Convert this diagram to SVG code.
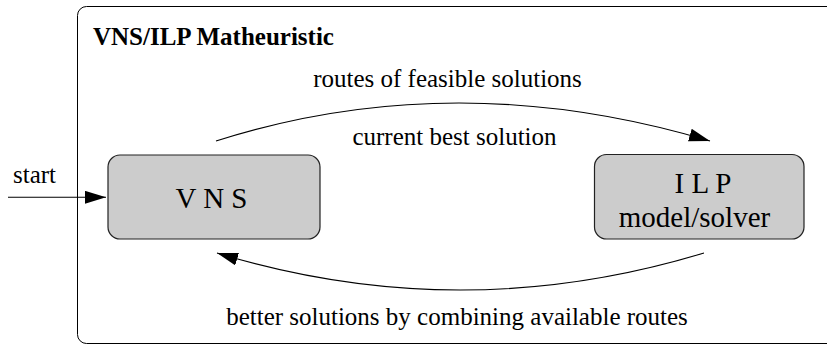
<svg xmlns="http://www.w3.org/2000/svg" width="827" height="345" viewBox="0 0 827 345">
<style>
text { font-family: "Liberation Serif", "Times New Roman", serif; fill: #000; }
.lbl { font-size: 25px; }
.title { font-size: 25px; font-weight: bold; }
.node-text { font-size: 29px; text-anchor: middle; }
.mid { text-anchor: middle; }
.node { fill: #cccccc; stroke: #222; stroke-width: 1.2; }
.edge { fill: none; stroke: #000; stroke-width: 1.1; }
</style>
<defs>
<marker id="arrow" markerUnits="userSpaceOnUse" markerWidth="22" markerHeight="14" refX="21" refY="6.5" orient="auto">
<path d="M0,0 L21,6.5 L0,13 z" fill="#000"/>
</marker>
</defs>
<g id="frame">
<rect x="77.5" y="6.5" width="780" height="337" rx="9" ry="9" fill="none" stroke="#000" stroke-width="1"/>
<text class="title" x="93" y="45">VNS/ILP Matheuristic</text>
</g>
<g id="connectors">
<path class="edge" d="M8,197.3 L106,197.3" marker-end="url(#arrow)"/>
<path class="edge" d="M216,141 Q455,65 710,141" marker-end="url(#arrow)"/>
<path class="edge" d="M704,253 Q460,327 217,253" marker-end="url(#arrow)"/>
<text class="lbl" x="13" y="183">start</text>
<text class="lbl mid" x="447.5" y="87">routes of feasible solutions</text>
<text class="lbl mid" x="454.5" y="145">current best solution</text>
<text class="lbl mid" x="457" y="325">better solutions by combining available routes</text>
</g>
<g id="node-vns">
<rect class="node" x="108" y="155" width="212" height="84" rx="12" ry="12"/>
<text class="node-text" x="211.5" y="208">V N S</text>
</g>
<g id="node-ilp">
<rect class="node" x="594.5" y="154.5" width="209.5" height="84.5" rx="12" ry="12"/>
<text class="node-text" x="703" y="193">I L P</text>
<text class="node-text" x="694.5" y="227">model/solver</text>
</g>
</svg>
